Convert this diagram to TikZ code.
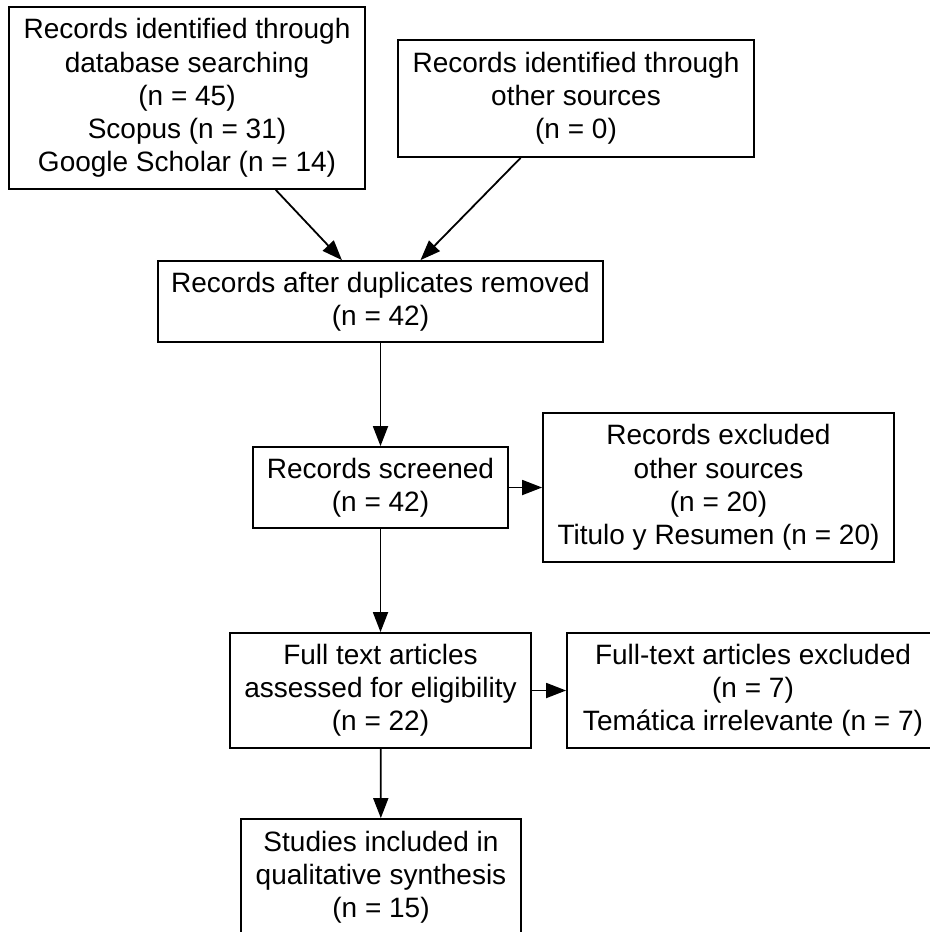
\documentclass[tikz,border=0pt]{standalone}
\usepackage{fontspec}
\setmainfont{Liberation Sans}
\usetikzlibrary{arrows.meta}
\tikzset{
  caja/.style={draw, line width=0.9pt, align=center, inner sep=0pt, font=\fontsize{14}{16.6}\selectfont},
  flecha/.style={-{Triangle[length=10pt,width=7.5pt]}, line width=0.9pt}
}

\begin{document}
\begin{tikzpicture}[x=0.5pt,y=-0.5pt]
\useasboundingbox (0,0) rectangle (930,932);
\clip (0,0) rectangle (930,932);  % la caja de abajo y la de la derecha quedan cortadas
\node[caja, minimum width=178pt, minimum height=91pt] (ident) at (187,98) {Records identified through\\database searching\\(n = 45)\\Scopus (n = 31)\\Google Scholar (n = 14)};
\node[caja, minimum width=178pt, minimum height=58.5pt] (otras) at (576,98.5) {Records identified through\\other sources\\(n = 0)};
\node[caja, minimum width=222.5pt, minimum height=40.5pt] (duplic) at (380.5,301.5) {Records after duplicates removed\\(n = 42)};
\node[caja, minimum width=127.5pt, minimum height=40.5pt] (screen) at (380.5,487.5) {Records screened\\(n = 42)};
\node[caja, minimum width=175.5pt, minimum height=74.5pt] (excl) at (718.5,487.5) {Records excluded\\other sources\\(n = 20)\\Titulo y Resumen (n = 20)};
\node[caja, minimum width=150.5pt, minimum height=57.5pt] (full) at (380.5,690.5) {Full text articles\\assessed for eligibility\\(n = 22)};
\node[caja, minimum width=186pt, minimum height=57.5pt] (fullexcl) at (753,690.5) {Full-text articles excluded\\(n = 7)\\Temática irrelevante (n = 7)};
\node[caja, minimum width=140pt, minimum height=58pt] (incl) at (381,877) {Studies included in\\qualitative synthesis\\(n = 15)};
\draw[flecha] (ident.-46) -- (duplic.133.5);  % a ojo
\draw[flecha] (otras.-133.7) -- (duplic.46.5);
\draw[flecha] (duplic) -- (screen);
\draw[flecha] (screen) -- (excl);
\draw[flecha] (screen) -- (full);
\draw[flecha] (full) -- (fullexcl);
\draw[flecha] (full) -- (incl);
\end{tikzpicture}
\end{document}
